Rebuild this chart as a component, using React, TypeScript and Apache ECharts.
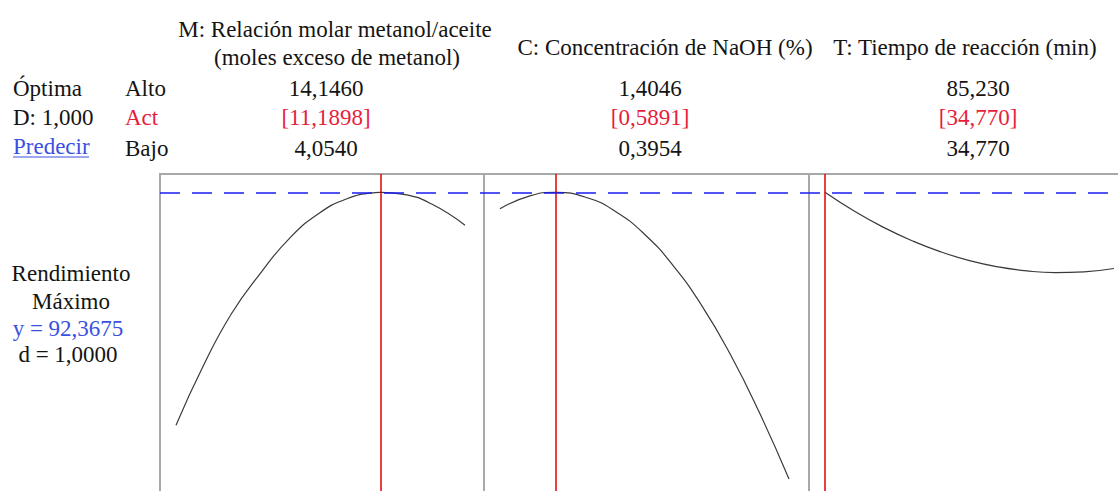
import React, { useEffect, useRef } from "react";
import * as echarts from "echarts";

// ---- data ----
const factorTitles = [
  ["M: Relación molar metanol/aceite", "(moles exceso de metanol)"],
  ["C: Concentración de NaOH (%)"],
  ["T: Tiempo de reacción (min)"],
];
const highLabels = ["14,1460", "1,4046", "85,230"];
const actLabels = ["[11,1898]", "[0,5891]", "[34,770]"];
const lowLabels = ["4,0540", "0,3954", "34,770"];
const optimum = [11.1898, 0.5891, 34.77];
const yOptimum = 92.3675;

const mX = [4.054, 5, 6, 7, 8, 9, 10, 11, 11.1898, 12, 13, 14.146];
const mY = [69.07, 74.97, 80.27, 84.27, 87.72, 90.17, 91.7, 92.34, 92.3675, 92.17, 91.17, 89.07];
const cX = [0.3954, 0.5, 0.5891, 0.7, 0.8, 0.9, 1.0, 1.1, 1.2, 1.3, 1.4046];
const cY = [90.73, 92.02, 92.3675, 91.83, 90.43, 88.18, 85.04, 81.04, 76.15, 70.42, 63.7];
const tX = [34.77, 40, 45, 50, 55, 60, 65, 70, 75, 80, 85.23];
const tY = [92.3675, 90.44, 88.86, 87.52, 86.41, 85.54, 84.91, 84.51, 84.34, 84.42, 84.75];

const yMin = 62;
const yMax = 94.2;

const FONT = "'Liberation Serif', 'DejaVu Serif', serif";
const BLACK = "#141414";
const RED = "#e61e3c";
const BLUE = "#3b50e0";

export default function App() {
  const ref = useRef<HTMLDivElement>(null);

  useEffect(() => {
    if (!ref.current) return;
    const chart = echarts.init(ref.current, null, { renderer: "svg" });

    const panels = [
      { x: mX, y: mY, left: 160, width: 324, opt: optimum[0] },
      { x: cX, y: cY, left: 484, width: 325, opt: optimum[1] },
      { x: tX, y: tY, left: 809, width: 325, opt: optimum[2] },
    ];
    const gridTop = 174;
    const gridHeight = 322;
    const padL = 16;
    const dataW = 289;

    const grids: any[] = [];
    const xAxes: any[] = [];
    const yAxes: any[] = [];
    const series: any[] = [];

    panels.forEach((p, i) => {
      const lo = p.x[0];
      const hi = p.x[p.x.length - 1];
      const scale = dataW / (hi - lo);
      const min = lo - padL / scale;
      const max = min + p.width / scale;
      grids.push({
        left: p.left,
        top: gridTop,
        width: p.width,
        height: gridHeight,
        show: true,
        borderColor: "#a8a8a8",
        borderWidth: 2,
        backgroundColor: "transparent",
      });
      xAxes.push({ gridIndex: i, type: "value", min, max, show: false });
      yAxes.push({ gridIndex: i, type: "value", min: yMin, max: yMax, show: false });
      series.push({
        type: "line",
        xAxisIndex: i,
        yAxisIndex: i,
        data: p.x.map((v, k) => [v, p.y[k]]),
        smooth: true,
        showSymbol: false,
        lineStyle: { color: "#3a3a3a", width: 1.2 },
        silent: true,
        markLine: {
          silent: true,
          symbol: "none",
          label: { show: false },
          lineStyle: { color: "#e00000", width: 1.5, type: "solid" },
          data: [{ xAxis: p.opt }],
        },
      });
    });

    // overlay grid for the continuous dashed optimum line
    grids.push({ left: 160, top: gridTop, width: 974, height: gridHeight, show: false });
    xAxes.push({ gridIndex: 3, type: "value", min: 0, max: 1, show: false });
    yAxes.push({ gridIndex: 3, type: "value", min: yMin, max: yMax, show: false });
    series.push({
      type: "line",
      xAxisIndex: 3,
      yAxisIndex: 3,
      data: [],
      silent: true,
      markLine: {
        silent: true,
        symbol: "none",
        label: { show: false },
        lineStyle: { color: "#1c1cf0", width: 1.5, type: [20, 12] },
        data: [{ yAxis: yOptimum }],
      },
    });

    const txt = (text: string, x: number, y: number, fill = BLACK, align = "center") => ({
      type: "text",
      x,
      y,
      silent: true,
      style: {
        text,
        fill,
        fontSize: 23,
        fontFamily: FONT,
        align,
        verticalAlign: "middle",
        textAlign: align,
        textVerticalAlign: "middle",
      },
    });

    const colCenters = [326, 650, 978];
    const graphics: any[] = [
      txt(factorTitles[0][0], 335, 29),
      txt(factorTitles[0][1], 337, 57),
      txt(factorTitles[1][0], 665, 47),
      txt(factorTitles[2][0], 965, 47),
      txt("Óptima", 13, 88, BLACK, "left"),
      txt("D: 1,000", 13, 117, BLACK, "left"),
      txt("Predecir", 13, 146, BLUE, "left"),
      {
        type: "line",
        silent: true,
        shape: { x1: 13, y1: 157, x2: 89, y2: 157 },
        style: { stroke: BLUE, lineWidth: 1 },
      },
      txt("Alto", 125, 88, BLACK, "left"),
      txt("Act", 125, 117, RED, "left"),
      txt("Bajo", 125, 148, BLACK, "left"),
      txt("Rendimiento", 71, 273),
      txt("Máximo", 71, 301),
      txt("y = " + String(yOptimum).replace(".", ","), 68, 328, BLUE),
      txt("d = 1,0000", 68, 354),
    ];
    colCenters.forEach((cx, i) => {
      graphics.push(txt(highLabels[i], cx, 88));
      graphics.push(txt(actLabels[i], cx, 117, RED));
      graphics.push(txt(lowLabels[i], cx, 148));
    });

    chart.setOption({
      animation: false,
      backgroundColor: "#ffffff",
      grid: grids,
      xAxis: xAxes,
      yAxis: yAxes,
      series,
      graphic: graphics,
    });

    return () => chart.dispose();
  }, []);

  return (
    <div
      ref={ref}
      style={{ position: "fixed", left: 0, top: 0, width: 1140, height: 530 }}
    />
  );
}
